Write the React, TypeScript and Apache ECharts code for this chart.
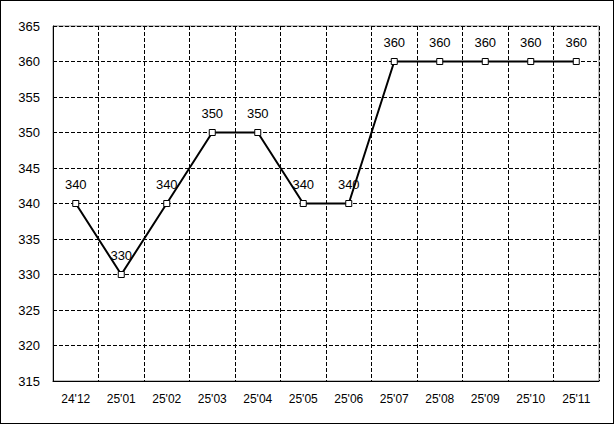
import React, { useEffect, useRef } from "react";
import * as echarts from "echarts";

const categories = ["24'12", "25'01", "25'02", "25'03", "25'04", "25'05", "25'06", "25'07", "25'08", "25'09", "25'10", "25'11"];
const values = [340, 330, 340, 350, 350, 340, 340, 360, 360, 360, 360, 360];
const yMin = 315;
const yMax = 365;
const yStep = 5;

export default function App() {
  const ref = useRef<HTMLDivElement>(null);
  useEffect(() => {
    document.body.style.margin = "0";
    const chart = echarts.init(ref.current!, undefined, { renderer: "svg" });
    const font = "'Liberation Sans', Arial, sans-serif";
    chart.setOption({
      animation: false,
      backgroundColor: "#ffffff",
      grid: {
        left: 52,
        top: 25,
        right: 14,
        bottom: 42,
        show: true,
        borderColor: "#808080",
        borderWidth: 1,
        backgroundColor: "transparent",
      },
      xAxis: {
        type: "category",
        data: categories,
        boundaryGap: true,
        axisLine: { show: true, lineStyle: { color: "#000", width: 1 } },
        axisTick: { show: false },
        axisLabel: { color: "#000", fontSize: 12, fontFamily: font, margin: 12, interval: 0 },
        splitLine: { show: true, interval: 0, lineStyle: { color: "#000", type: [4, 2], width: 1 } },
      },
      yAxis: {
        type: "value",
        min: yMin,
        max: yMax,
        interval: yStep,
        axisLine: { show: true, lineStyle: { color: "#000", width: 1 } },
        axisTick: { show: false },
        axisLabel: { color: "#000", fontSize: 13, fontFamily: font, margin: 13 },
        splitLine: { show: true, lineStyle: { color: "#000", type: [4, 2], width: 1 } },
      },
      series: [
        {
          type: "line",
          data: values,
          symbol: "rect",
          symbolSize: 6,
          showAllSymbol: true,
          lineStyle: { color: "#000", width: 2 },
          itemStyle: { color: "#fff", borderColor: "#000", borderWidth: 1 },
          label: {
            show: true,
            position: "top",
            distance: 9,
            color: "#000",
            fontSize: 13,
            fontFamily: font,
          },
          z: 5,
        },
      ],
    });
    return () => chart.dispose();
  }, []);
  return (
    <div
      style={{
        position: "absolute",
        left: 0,
        top: 0,
        width: 614,
        height: 424,
        border: "1px solid #000",
        boxSizing: "border-box",
        background: "#fff",
      }}
    >
      <div ref={ref} style={{ width: 612, height: 422 }} />
    </div>
  );
}
